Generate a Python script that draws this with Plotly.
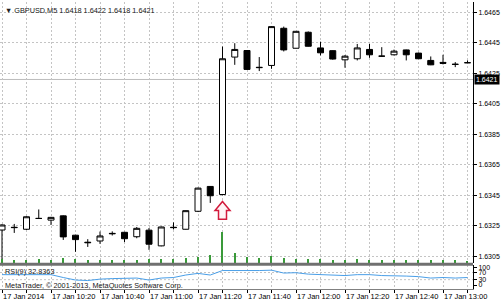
import plotly.graph_objects as go

# ---------------- data ----------------
times = ["10:00", "10:05", "10:10", "10:15", "10:20", "10:25", "10:30", "10:35",
         "10:40", "10:45", "10:50", "10:55", "11:00", "11:05", "11:10", "11:15",
         "11:20", "11:25", "11:30", "11:35", "11:40", "11:45", "11:50", "11:55",
         "12:00", "12:05", "12:10", "12:15", "12:20", "12:25", "12:30", "12:35",
         "12:40", "12:45", "12:50", "12:55", "13:00", "13:05", "13:10"]

opens = [1.63222, 1.63240, 1.63227, 1.63298, 1.63287, 1.63315, 1.63188, 1.63142,
         1.63150, 1.63200, 1.63207, 1.63178, 1.63221, 1.63118, 1.63240, 1.63227,
         1.63345, 1.63508, 1.63455, 1.64357, 1.64400, 1.64290, 1.64302, 1.64546,
         1.64415, 1.64520, 1.64417, 1.64399, 1.64339, 1.64346, 1.64407, 1.64363,
         1.64372, 1.64404, 1.64383, 1.64335, 1.64322, 1.64310, 1.64320]
highs = [1.63260, 1.63262, 1.63312, 1.63357, 1.63308, 1.63318, 1.63190, 1.63162,
         1.63212, 1.63213, 1.63210, 1.63242, 1.63235, 1.63245, 1.63272, 1.63350,
         1.63500, 1.63510, 1.64426, 1.64448, 1.64402, 1.64357, 1.64560, 1.64557,
         1.64528, 1.64525, 1.64458, 1.64401, 1.64370, 1.64443, 1.64443, 1.64422,
         1.64406, 1.64406, 1.64386, 1.64361, 1.64372, 1.64324, 1.64335]
lows = [1.63030, 1.63203, 1.63222, 1.63295, 1.63255, 1.63157, 1.63079, 1.63111,
        1.63131, 1.63186, 1.63143, 1.63168, 1.63092, 1.63115, 1.63226, 1.63225,
        1.63340, 1.63400, 1.63450, 1.64306, 1.64272, 1.64265, 1.64280, 1.64394,
        1.64413, 1.64426, 1.64368, 1.64340, 1.64287, 1.64335, 1.64352, 1.64361,
        1.64368, 1.64335, 1.64344, 1.64304, 1.64309, 1.64291, 1.64318]
closes = [1.63255, 1.63238, 1.63309, 1.63298, 1.63305, 1.63177, 1.63159, 1.63139,
          1.63183, 1.63198, 1.63165, 1.63233, 1.63129, 1.63242, 1.63238, 1.63349,
          1.63497, 1.63447, 1.64346, 1.64407, 1.64276, 1.64288, 1.64557, 1.64404,
          1.64526, 1.64428, 1.64385, 1.64344, 1.64363, 1.64417, 1.64372, 1.64363,
          1.64396, 1.64372, 1.64346, 1.64306, 1.64316, 1.64309, 1.64320]

volumes = [40, 30, 30, 40, 30, 50, 40, 30, 30, 30, 30, 30, 40, 40, 40, 50,
           60, 80, 300, 100, 60, 50, 70, 50, 40, 40, 40, 30, 30, 40, 30, 30,
           30, 30, 30, 30, 30, 30, 20]

rsi = [58, 58, 61, 61, 58, 42, 28, 25, 33, 36, 36, 39, 28, 39, 42, 56,
       65, 56, 81, 83, 81, 81, 83, 67, 69, 61, 58, 56, 53, 58, 58, 53,
       53, 50, 47, 39, 42, 39, 42]

price_ticks = [1.6305, 1.6325, 1.6345, 1.6365, 1.6385, 1.6405, 1.6425, 1.6445, 1.6465]
rsi_ticks = [0, 30, 70, 100]
rsi_levels = [30, 70]
bid_price = 1.6421
title_text = "GBPUSD,M5 1.6418 1.6422 1.6418 1.6421"
rsi_text = "RSI(9) 32.8363"
copyright_text = "MetaTrader, © 2001-2013, MetaQuotes Software Corp."
arrow_bar = 18

# ---------------- layout geometry ----------------
W, H = 503, 305
ML, MR, MT, MB = 0, 30, 0, 16
PH = H - MT - MB          # plot height in px
BAR_PX = 12.25
n = len(times)
xs = list(range(n))
x0 = -2.0 / BAR_PX
x1 = x0 + (W - ML - MR) / BAR_PX

def py(px):               # pixel row -> paper fraction
    return (PH - px) / PH

main_dom = [py(263), 1.0]
rsi_dom = [0.0, py(265)]
pmax = 1.6465 + 10.5 / 15344
pmin = 1.6305 - 7.0 / 15344

FONT = "Liberation Sans"
GRID = "#c4c4c4"

tick_vals_x = xs[::2]
tick_text_x = []
for i in tick_vals_x:
    if i % 4 == 0:
        tick_text_x.append("17 Jan 2014" if i == 0 else "17 Jan " + times[i])
    else:
        tick_text_x.append("")

fig = go.Figure()

# volumes (overlaid at bottom of main panel)
fig.add_trace(go.Bar(x=xs, y=volumes, width=0.09, marker=dict(color="#3a9a3a", line=dict(width=0)),
                     yaxis="y2", xaxis="x", hoverinfo="skip", showlegend=False))

fig.add_trace(go.Candlestick(
    x=xs, open=opens, high=highs, low=lows, close=closes,
    increasing=dict(line=dict(color="black", width=1), fillcolor="white"),
    decreasing=dict(line=dict(color="black", width=1), fillcolor="black"),
    whiskerwidth=0, xaxis="x", yaxis="y", showlegend=False, hoverinfo="skip"))

fig.add_trace(go.Scatter(x=xs, y=rsi, mode="lines", line=dict(color="#4a9fe8", width=1),
                         xaxis="x2", yaxis="y3", showlegend=False, hoverinfo="skip"))

shapes = []
# bid line
shapes.append(dict(type="line", xref="paper", yref="y", x0=0, x1=1, y0=bid_price, y1=bid_price,
                   line=dict(color="#bdbdbd", width=1), layer="below"))
# rsi levels
for lv in rsi_levels:
    shapes.append(dict(type="line", xref="paper", yref="y3", x0=0, x1=1, y0=lv, y1=lv,
                       line=dict(color=GRID, width=1, dash="2px,2px"), layer="below"))
# panel separator
shapes.append(dict(type="line", xref="paper", yref="paper", x0=0, x1=1, y0=py(264), y1=py(264),
                   line=dict(color="#707070", width=3)))
# arrow under the breakout candle
ppx = (pmax - pmin) / (main_dom[1] - main_dom[0]) / PH   # price per px
tip = opens[arrow_bar] - 7 * ppx
base = tip - 9 * ppx
bottom = base - 9 * ppx
hw = 7.5 / BAR_PX
sw = 4.0 / BAR_PX
c = arrow_bar
path = (f"M {c},{tip} L {c+hw},{base} L {c+sw},{base} L {c+sw},{bottom} "
        f"L {c-sw},{bottom} L {c-sw},{base} L {c-hw},{base} Z")
shapes.append(dict(type="path", xref="x", yref="y", path=path,
                   line=dict(color="#d21a3c", width=1.5), fillcolor="#fff4f6"))

annotations = [
    dict(text="▼ " + title_text, xref="paper", yref="paper", x=0, y=py(9), xshift=3,
         xanchor="left", yanchor="middle", showarrow=False, font=dict(family=FONT, size=7.3, color="#202020")),
    dict(text=rsi_text, xref="paper", yref="paper", x=0, y=py(271), xshift=3,
         xanchor="left", yanchor="middle", showarrow=False, font=dict(family=FONT, size=7.3, color="#202020")),
    dict(text=copyright_text, xref="paper", yref="paper", x=0, y=py(285.5), xshift=3,
         xanchor="left", yanchor="middle", showarrow=False, font=dict(family=FONT, size=7.3, color="#202020")),
    dict(text=f"{bid_price:.4f}", xref="paper", yref="y", x=1, y=bid_price, xshift=1,
         xanchor="left", yanchor="middle", showarrow=False, bgcolor="black", borderpad=1,
         font=dict(family=FONT, size=7, color="white")),
]

axis_font = dict(family=FONT, size=7, color="black")
xaxis_font = dict(family=FONT, size=7.5, color="black")

fig.update_layout(
    width=W, height=H, margin=dict(l=ML, r=MR, t=MT, b=MB),
    paper_bgcolor="white", plot_bgcolor="white", showlegend=False,
    bargap=0, shapes=shapes, annotations=annotations,
    xaxis=dict(domain=[0, 1], anchor="y", range=[x0, x1], tickmode="array",
               tickvals=tick_vals_x, showticklabels=False, ticks="",
               showgrid=True, gridcolor=GRID, griddash="2px,2px", gridwidth=1,
               zeroline=False, showline=False, rangeslider=dict(visible=False)),
    xaxis2=dict(domain=[0, 1], anchor="y3", matches="x", range=[x0, x1], tickmode="array",
                tickvals=tick_vals_x, ticktext=tick_text_x, ticklabelposition="outside right",
                tickangle=0, ticks="outside", ticklen=3, tickcolor="black", tickfont=xaxis_font,
                showgrid=True, gridcolor=GRID, griddash="2px,2px", gridwidth=1,
                zeroline=False, showline=True, linecolor="#808080", linewidth=1),
    yaxis=dict(domain=main_dom, anchor="x", side="right", range=[pmin, pmax], tickmode="array",
               tickvals=price_ticks, ticktext=[f"{v:.4f}" for v in price_ticks],
               tickfont=axis_font, ticks="outside", ticklen=3, tickcolor="black",
               showgrid=True, gridcolor=GRID, griddash="2px,2px", gridwidth=1,
               zeroline=False, showline=True, linecolor="black", linewidth=1),
    yaxis2=dict(domain=main_dom, anchor="x", overlaying="y", range=[0, 300 * 263 / 31],
                visible=False),
    yaxis3=dict(domain=rsi_dom, anchor="x2", side="right", range=[-22.2, 111.1],
                tickmode="array", tickvals=rsi_ticks, ticktext=[str(v) for v in rsi_ticks],
                tickfont=axis_font, ticks="outside", ticklen=3, tickcolor="black",
                showgrid=False, zeroline=False, showline=True, linecolor="black", linewidth=1),
)

fig.write_html("out.html")
